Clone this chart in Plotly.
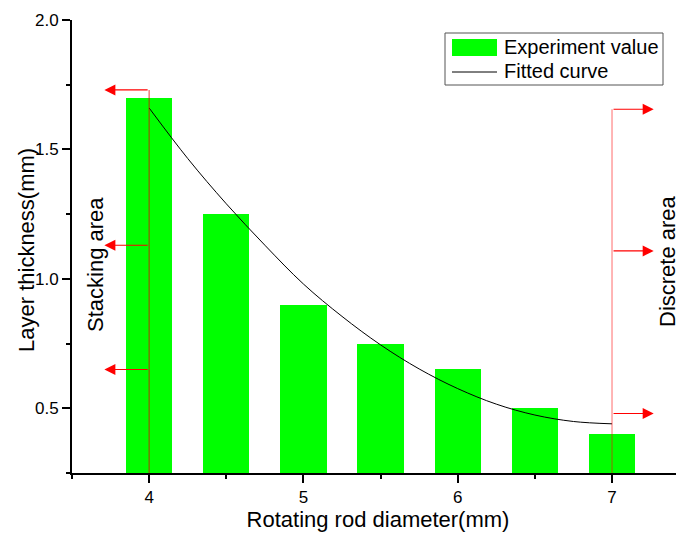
import plotly.graph_objects as go

# ---- data ----
diameters = [4.0, 4.5, 5.0, 5.5, 6.0, 6.5, 7.0]
thickness = [1.70, 1.25, 0.90, 0.75, 0.65, 0.50, 0.40]

fit_x = [4.0, 4.25, 4.5, 4.75, 5.0, 5.25, 5.5, 5.75, 6.0, 6.25, 6.5, 6.75, 7.0]
fit_y = [1.66, 1.465, 1.29, 1.13, 0.98, 0.855, 0.745, 0.652, 0.576, 0.516, 0.474, 0.449, 0.44]

stack_x = 4.0
stack_arrow_y = [1.73, 1.13, 0.65]
stack_arrow_tip = 3.71
discrete_x = 7.0
discrete_arrow_y = [1.655, 1.108, 0.48]
discrete_arrow_tip = 7.27

y_ticks = [0.5, 1.0, 1.5, 2.0]
y_minor = [0.25, 0.75, 1.25, 1.75]
x_ticks = [4, 5, 6, 7]
x_minor = [3.5, 4.5, 5.5, 6.5]

FONT = "Liberation Sans, Arial, sans-serif"
GREEN = "#00ff00"

# page geometry (browser body has an 8px default margin)
OFF = 8
W, H = 684 - OFF, 536 - OFF
L, R, T, B = 64, 0, 12, 63
PW, PH = W - L - R, H - T - B


def px_to_paper(px, py):
    """page pixel -> paper coordinate"""
    return (px - OFF - L) / PW, 1 - (py - OFF - T) / PH


fig = go.Figure()
fig.add_trace(go.Bar(x=diameters, y=thickness, width=0.3, marker=dict(color=GREEN, line=dict(width=0)),
                     name="Experiment value", showlegend=False))
fig.add_trace(go.Scatter(x=fit_x, y=fit_y, mode="lines", line=dict(color="black", width=1, shape="spline"),
                         name="Fitted curve", showlegend=False))

shapes = []
annotations = []
ybot = y_minor[0]
shapes.append(dict(type="line", xref="x", yref="y", x0=stack_x, x1=stack_x, y0=ybot, y1=max(stack_arrow_y),
                   line=dict(color="rgba(225,0,0,0.6)", width=1.3), layer="above"))
shapes.append(dict(type="line", xref="x", yref="y", x0=discrete_x, x1=discrete_x, y0=ybot, y1=max(discrete_arrow_y),
                   line=dict(color="rgba(255,0,0,0.45)", width=1.3), layer="above"))
for yv in stack_arrow_y:
    annotations.append(dict(x=stack_arrow_tip, y=yv, ax=stack_x, ay=yv, xref="x", yref="y", axref="x", ayref="y",
                            showarrow=True, arrowhead=2, arrowsize=2, arrowwidth=1.1, arrowcolor="red",
                            standoff=0, text=""))
for yv in discrete_arrow_y:
    annotations.append(dict(x=discrete_arrow_tip, y=yv, ax=discrete_x, ay=yv, xref="x", yref="y", axref="x", ayref="y",
                            showarrow=True, arrowhead=2, arrowsize=2, arrowwidth=1.1, arrowcolor="red",
                            standoff=0, text=""))


def vlabel(px, py, text, size):
    x, y = px_to_paper(px, py)
    return dict(x=x, y=y, xref="paper", yref="paper", xanchor="center", yanchor="middle", text=text,
                showarrow=False, textangle=-90, font=dict(family=FONT, size=size, color="black"))


annotations.append(vlabel(95, 265, "Stacking area", 22))
annotations.append(vlabel(667, 261, "Discrete area", 22))
annotations.append(vlabel(26, 250, "Layer thickness(mm)", 22))

# legend box drawn by hand (wide swatches as in the reference)
lx0, ly0 = px_to_paper(445, 33)
lx1, ly1 = px_to_paper(663, 85)
shapes.append(dict(type="rect", xref="paper", yref="paper", x0=lx0, y0=ly0, x1=lx1, y1=ly1,
                   line=dict(color="#555555", width=1), fillcolor="white", layer="above"))
gx0, gy0 = px_to_paper(452, 39)
gx1, gy1 = px_to_paper(497, 56)
shapes.append(dict(type="rect", xref="paper", yref="paper", x0=gx0, y0=gy0, x1=gx1, y1=gy1,
                   line=dict(width=0), fillcolor=GREEN, layer="above"))
fx0, fy = px_to_paper(452, 72)
fx1, _ = px_to_paper(497, 72)
shapes.append(dict(type="line", xref="paper", yref="paper", x0=fx0, y0=fy, x1=fx1, y1=fy,
                   line=dict(color="black", width=1), layer="above"))
tx, ty1 = px_to_paper(502, 47)
_, ty2 = px_to_paper(502, 71)
annotations.append(dict(x=tx, y=ty1, xref="paper", yref="paper", xanchor="left", yanchor="middle",
                        text="Experiment value", showarrow=False, font=dict(family=FONT, size=20, color="black")))
annotations.append(dict(x=tx, y=ty2, xref="paper", yref="paper", xanchor="left", yanchor="middle",
                        text="Fitted curve", showarrow=False, font=dict(family=FONT, size=20, color="black")))

fig.update_layout(
    width=W, height=H,
    margin=dict(l=L, r=R, t=T, b=B, pad=0),
    plot_bgcolor="white", paper_bgcolor="white",
    font=dict(family=FONT, size=17, color="black"),
    shapes=shapes, annotations=annotations,
    showlegend=False,
    bargap=0,
)
fig.update_xaxes(
    range=[3.5, 7.4665], tickvals=x_ticks, ticktext=[str(v) for v in x_ticks],
    showline=True, linecolor="black", linewidth=2, ticks="outside", ticklen=8, tickwidth=1.5, tickcolor="black",
    minor=dict(tickvals=x_minor, ticks="outside", ticklen=4, tickwidth=1.5, tickcolor="black"),
    showgrid=False, zeroline=False, tickfont=dict(size=17),
    title=dict(text="Rotating rod diameter(mm)", font=dict(size=22), standoff=2),
)
fig.update_yaxes(
    range=[0.25, 2.0], tickvals=y_ticks, ticktext=["%.1f" % v for v in y_ticks],
    showline=True, linecolor="black", linewidth=2, ticks="outside", ticklen=8, tickwidth=1.5, tickcolor="black",
    minor=dict(tickvals=y_minor, ticks="outside", ticklen=4, tickwidth=1.5, tickcolor="black"),
    showgrid=False, zeroline=False, tickfont=dict(size=17),
)

fig.write_html("out.html")
